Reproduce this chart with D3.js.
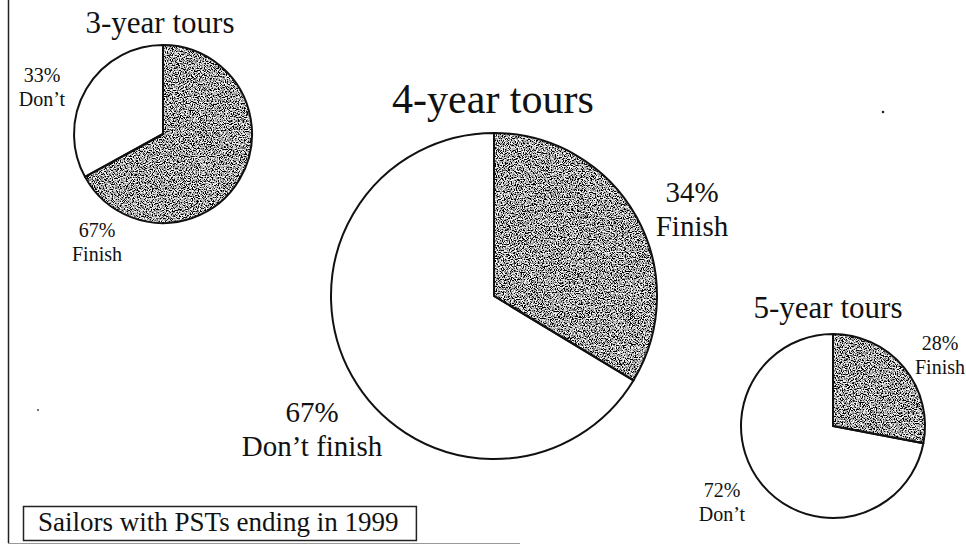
<!DOCTYPE html>
<html>
<head>
<meta charset="utf-8">
<script src="https://cdn.jsdelivr.net/npm/d3@7"></script>
<style>
  html, body { margin: 0; padding: 0; background: #fff; }
  svg { display: block; }
  text { font-family: "Liberation Serif", "DejaVu Serif", serif; fill: #111; }
</style>
</head>
<body>
<svg id="chart" width="966" height="546"></svg>
<script>
// ---- data ----
const tourTitles   = ["3-year tours", "4-year tours", "5-year tours"];
const finishPct    = [67, 34, 28];
const dontPct      = [33, 67, 72];
const finishLabels = ["Finish", "Finish", "Finish"];
const dontLabels   = ["Don\u2019t", "Don\u2019t finish", "Don\u2019t"];
const caption      = "Sailors with PSTs ending in 1999";

// ---- layout (positions / styles only) ----
const layout = [
  { cx: 163, cy: 134, r: 89,  titleX: 160, titleY: 33,  titleSize: 31,
    labSize: 20, lineGap: 24,
    finLab: { x: 97,  y: 237 }, dontLab: { x: 42,  y: 82 } },
  { cx: 494, cy: 296, r: 163, titleX: 493, titleY: 113, titleSize: 42,
    labSize: 29, lineGap: 34,
    finLab: { x: 692, y: 202 }, dontLab: { x: 312, y: 422 } },
  { cx: 833, cy: 426, r: 92,  titleX: 828, titleY: 318, titleSize: 31,
    labSize: 20, lineGap: 24,
    finLab: { x: 940, y: 350 }, dontLab: { x: 722, y: 497 } }
];

const svg = d3.select("#chart");

// stipple texture filter for the "Finish" slices
const defs = svg.append("defs");
const filt = defs.append("filter")
  .attr("id", "stipple")
  .attr("x", "-5%").attr("y", "-5%").attr("width", "110%").attr("height", "110%");
filt.append("feTurbulence")
  .attr("type", "fractalNoise").attr("baseFrequency", 0.85)
  .attr("numOctaves", 2).attr("seed", 7).attr("result", "noise");
filt.append("feColorMatrix")
  .attr("in", "noise").attr("type", "matrix")
  .attr("values", "4 0 0 0 -1.6  4 0 0 0 -1.6  4 0 0 0 -1.6  0 0 0 0 1")
  .attr("result", "gray");
filt.append("feComposite")
  .attr("in", "gray").attr("in2", "SourceGraphic").attr("operator", "in");

// outer frame (left and bottom edges of the scanned page)
svg.append("line").attr("x1", 8.5).attr("x2", 8.5).attr("y1", 0).attr("y2", 543)
  .attr("stroke", "#222").attr("stroke-width", 1.5);
svg.append("line").attr("x1", 8).attr("x2", 520).attr("y1", 543.5).attr("y2", 543.5)
  .attr("stroke", "#999").attr("stroke-width", 1);

const pie = d3.pie().sort(null).value(d => d.value);

tourTitles.forEach((title, i) => {
  const L = layout[i];
  const data = [
    { key: "finish", value: finishPct[i] },
    { key: "dont",   value: dontPct[i] }
  ];
  const arcs = pie(data);
  const arc = d3.arc().innerRadius(0).outerRadius(L.r);
  const g = svg.append("g").attr("transform", `translate(${L.cx},${L.cy})`);

  g.selectAll("path.fill").data(arcs).join("path")
    .attr("class", "fill")
    .attr("d", arc)
    .attr("fill", d => d.data.key === "finish" ? "#777" : "#fff")
    .attr("filter", d => d.data.key === "finish" ? "url(#stipple)" : null);

  g.selectAll("path.edge").data(arcs).join("path")
    .attr("class", "edge")
    .attr("d", arc)
    .attr("fill", "none")
    .attr("stroke", "#111")
    .attr("stroke-width", 2)
    .attr("stroke-linejoin", "round");

  // title
  svg.append("text")
    .attr("x", L.titleX).attr("y", L.titleY)
    .attr("text-anchor", "middle")
    .style("font-size", L.titleSize + "px")
    .text(title);

  // labels
  const labs = [
    { pos: L.finLab,  pct: finishPct[i], name: finishLabels[i] },
    { pos: L.dontLab, pct: dontPct[i],   name: dontLabels[i] }
  ];
  labs.forEach(lb => {
    const t = svg.append("text")
      .attr("text-anchor", "middle")
      .style("font-size", L.labSize + "px");
    t.append("tspan").attr("x", lb.pos.x).attr("y", lb.pos.y).text(lb.pct + "%");
    t.append("tspan").attr("x", lb.pos.x).attr("y", lb.pos.y + L.lineGap).text(lb.name);
  });
});

// caption box
const capText = svg.append("text")
  .attr("x", 38).attr("y", 531)
  .style("font-size", "27px")
  .text(caption);
const bb = capText.node().getBBox();
svg.insert("rect", "text")
  .attr("x", 23.5).attr("y", 506.5)
  .attr("width", bb.x + bb.width + 18 - 23.5)
  .attr("height", 34)
  .attr("fill", "#fff")
  .attr("stroke", "#222")
  .attr("stroke-width", 1.5);

// scan specks
svg.append("circle").attr("cx", 883).attr("cy", 112).attr("r", 1.3).attr("fill", "#222");
svg.append("circle").attr("cx", 38).attr("cy", 410).attr("r", 1).attr("fill", "#444");
</script>
</body>
</html>
